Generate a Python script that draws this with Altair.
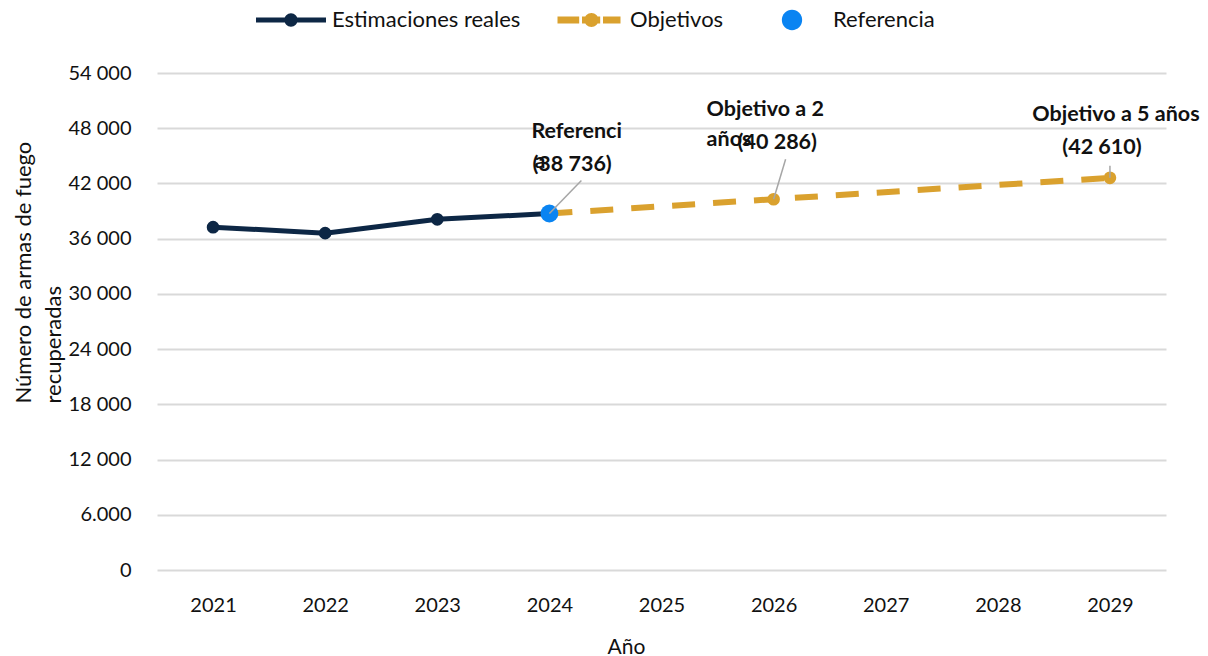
import altair as alt
import pandas as pd

# ---- data -------------------------------------------------------------
years_real = [2021, 2022, 2023, 2024]
values_real = [37250, 36600, 38100, 38736]

years_target = [2024, 2026, 2029]
values_target = [38736, 40286, 42610]

ref_years = [2024]
ref_values = [38736]

series_names = ["Estimaciones reales", "Objetivos", "Referencia"]

year_ticks = [2021, 2022, 2023, 2024, 2025, 2026, 2027, 2028, 2029]
y_ticks = [0, 6000, 12000, 18000, 24000, 30000, 36000, 42000, 48000, 54000]
y_tick_labels = ["0", "6.000", "12 000", "18 000", "24 000", "30 000",
                 "36 000", "42 000", "48 000", "54 000"]

note_years = [2024, 2024, 2024, 2026, 2026, 2026, 2029, 2029]
note_values = [38736, 38736, 38736, 40286, 40286, 40286, 42610, 42610]
note_texts = ["Referenci", "a", "(38 736)", "Objetivo a 2", "años", "(40 286)",
              "Objetivo a 5 años", "(42 610)"]

# ---- styling ----------------------------------------------------------
NAVY = "#0D2745"
GOLD = "#DAA12E"
BLUE = "#0A84F2"
LEADER = "#A6A6A6"
GRID = "#D9D9D9"
TEXT = "#111111"
FONT = "Lato"

# label placement relative to its point (dx, dy, align)
note_style = [(-18, -81, "left"), (-15, -51, "left"), (-17, -48, "left"),
              (-67, -89, "left"), (-67, -59, "left"), (-36, -56, "left"),
              (6, -63, "center"), (-8, -30, "center")]
# leader line end relative to its point (dx, dy)
leader_style = {2024: (32, -33), 2026: (12, -40), 2029: (0, -12)}

real_df = pd.DataFrame({"year": years_real, "value": values_real})
target_df = pd.DataFrame({"year": years_target, "value": values_target})
ref_df = pd.DataFrame({"year": ref_years, "value": ref_values})
notes_df = pd.DataFrame({"year": note_years, "value": note_values, "text": note_texts})
legend_df = pd.DataFrame({"serie": series_names})

label_map = "{" + ", ".join(f"'{v}': '{t}'" for v, t in zip(y_ticks, y_tick_labels)) + "}"

x_enc = alt.X(
    "year:Q",
    scale=alt.Scale(domain=[2020.5, 2029.5], nice=False, zero=False),
    axis=alt.Axis(values=year_ticks, format="d", grid=False, domain=False, ticks=False,
                  labelPadding=25, labelFontSize=20, labelFont=FONT, labelColor=TEXT,
                  title="Año", titleFontSize=21, titleFont=FONT, titleFontWeight="normal",
                  titleColor=TEXT, titleX=469, titleY=77, titleBaseline="middle"),
)
y_enc = alt.Y(
    "value:Q",
    scale=alt.Scale(domain=[0, 54000], nice=False, zero=True),
    axis=alt.Axis(values=y_ticks, labelExpr=f"{label_map}[datum.value + '']",
                  grid=True, gridColor=GRID, gridWidth=2, domain=False, ticks=False,
                  labelPadding=26, labelFontSize=20, labelFont=FONT, labelColor=TEXT,
                  title=["Número de armas de fuego", "recuperadas"], titleFontSize=22,
                  titleFont=FONT, titleFontWeight="normal", titleColor=TEXT,
                  titleAngle=270, titleAlign="left", titleBaseline="middle",
                  titleLineHeight=30, titleX=-134, titleY=330),
)

real_line = alt.Chart(real_df).mark_line(color=NAVY, strokeWidth=5).encode(x=x_enc, y=y_enc)
real_pts = alt.Chart(real_df).mark_circle(color=NAVY, size=160, opacity=1).encode(x="year:Q", y="value:Q")

target_line = alt.Chart(target_df).mark_line(
    color=GOLD, strokeWidth=6, strokeDash=[23, 18], strokeCap="butt"
).encode(x="year:Q", y="value:Q")
target_pts = alt.Chart(target_df).mark_circle(color=GOLD, size=160, opacity=1).encode(x="year:Q", y="value:Q")

ref_pt = alt.Chart(ref_df).mark_circle(color=BLUE, size=320, opacity=1).encode(x="year:Q", y="value:Q")

leaders = []
for yr, (ldx, ldy) in leader_style.items():
    leaders.append(
        alt.Chart(notes_df).transform_filter(f"datum.year == {yr} && datum.text != 'a'")
        .transform_aggregate(year="min(year)", value="min(value)")
        .mark_rule(color=LEADER, strokeWidth=1.5, x2Offset=ldx, y2Offset=ldy)
        .encode(x="year:Q", x2="year:Q", y="value:Q", y2="value:Q")
    )

notes = []
for i, (ndx, ndy, nalign) in enumerate(note_style):
    notes.append(
        alt.Chart(notes_df.iloc[[i]]).mark_text(
            dx=ndx, dy=ndy, align=nalign, baseline="middle", font=FONT,
            fontSize=21.5, fontWeight="bold", color=TEXT
        ).encode(x="year:Q", y="value:Q", text="text:N")
    )

# legend symbols: unit square paths (1 unit = 35 px at symbolSize 4900)
circ = lambda r, cx=0.0: (f"M{cx - r},0 A{r},{r} 0 1,1 {cx + r},0 "
                          f"A{r},{r} 0 1,1 {cx - r},0 Z")
rect = lambda x0, x1, h: f"M{x0},{-h} L{x1},{-h} L{x1},{h} L{x0},{h} Z"
sym_real = rect(-1, 1, 0.072) + " " + circ(0.19)
sym_target = (rect(-0.9, -0.28, 0.1) + " " + rect(-0.2, 0.32, 0.1) + " "
              + circ(0.2, 0.07) + " " + rect(0.4, 0.9, 0.1))
sym_ref = circ(0.29)

leg = alt.Legend(orient="none", legendX=99, legendY=-88, direction="horizontal",
                 title=None, symbolSize=4900, symbolStrokeWidth=0, labelFontSize=22,
                 labelFont=FONT, labelColor=TEXT, labelOffset=6, columnPadding=33,
                 padding=0, labelLimit=400, symbolOpacity=1)
legend_layer = alt.Chart(legend_df).transform_filter("false").mark_point(
    filled=True, opacity=1
).encode(
    color=alt.Color("serie:N", scale=alt.Scale(domain=series_names, range=[NAVY, GOLD, BLUE]), legend=leg),
    shape=alt.Shape("serie:N", scale=alt.Scale(domain=series_names, range=[sym_real, sym_target, sym_ref]), legend=leg),
)

chart = alt.layer(
    real_line, target_line, real_pts, target_pts, ref_pt, *leaders, *notes, legend_layer
).properties(
    width=1009, height=497,
    autosize=alt.AutoSizeParams(type="none"),
    padding={"left": 157, "top": 73, "right": 42, "bottom": 86},
    background="white",
).configure_view(stroke=None)

chart.save("out.html", embed_options={"renderer": "svg", "actions": False})
